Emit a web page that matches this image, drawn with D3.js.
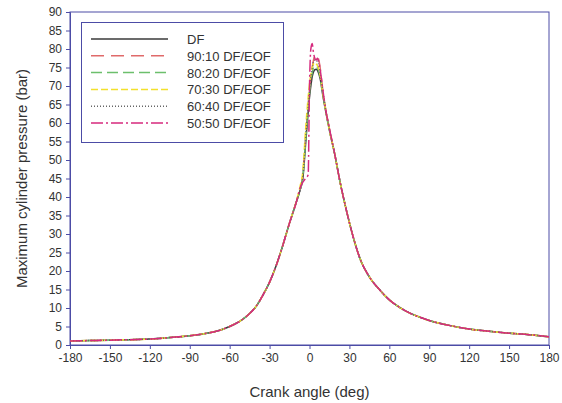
<!DOCTYPE html>
<html lang="en">
<head>
<meta charset="utf-8">
<title>Maximum cylinder pressure vs crank angle</title>
<script src="https://d3js.org/d3.v7.min.js"></script>
<style>
  body { margin: 0; background: #fff; }
  text { font-family: Arial, "Liberation Sans", sans-serif; fill: #333; }
</style>
</head>
<body>
<script>
// crank angle (deg)
var angles = [-180,-165,-150,-135,-120,-105,-90,-80,-70,-60,-50,-45,-40,-35,-30,-25,-20,-15,-10,-7,-5,-3,-1,0,1,2,3,4,5,6,7,8,10,12,15,19,23,28,33,38,45,53,60,68,75,83,90,105,120,135,150,165,180];

var df     = [1.1,1.2,1.3,1.45,1.6,2.0,2.5,3.0,3.7,5.0,7.0,8.5,10.5,13.5,17,21.5,27,33,38.5,42,45,54,63,67,70,72.5,73.8,74.4,74.5,74.2,73.3,72,67.5,63.5,58,51.5,44,36,29,23.3,18.4,14.8,12.2,10.1,8.7,7.5,6.6,5.3,4.3,3.7,3.2,2.8,2.2];
var eof10  = [1.1,1.2,1.3,1.45,1.6,2.0,2.5,3.0,3.7,5.0,7.0,8.5,10.5,13.5,17,21.5,27,33,38.5,42,46,56,65,69,72.5,75,77,78,77.5,77.8,77,75,69,64,58.5,51.5,44,36,29,23.3,18.4,14.8,12.2,10.1,8.7,7.5,6.6,5.3,4.3,3.7,3.2,2.8,2.2];
var eof20  = [1.1,1.2,1.3,1.45,1.6,2.0,2.5,3.0,3.7,5.0,7.0,8.5,10.5,13.5,17,21.5,27,33,38.5,42,45.5,55,64,68,71.5,73.5,75,75.5,75.5,75,74,72.5,68,63.8,58,51.5,44,36,29,23.3,18.4,14.8,12.2,10.1,8.7,7.5,6.6,5.3,4.3,3.7,3.2,2.8,2.2];
var eof30  = [1.1,1.2,1.3,1.45,1.6,2.0,2.5,3.0,3.7,5.0,7.0,8.5,10.5,13.5,17,21.5,27,33,38.8,43,47,58,67,70.5,73,75,76,76.3,76,75.5,74.5,73,68,63.8,58,51.5,44,36,29,23.3,18.4,14.8,12.2,10.1,8.7,7.5,6.6,5.3,4.3,3.7,3.2,2.8,2.2];
var eof40  = [1.1,1.2,1.3,1.45,1.6,2.0,2.5,3.0,3.7,5.0,7.0,8.5,10.5,13.5,17,21.5,27,33,38.5,42,45.5,55,64.5,68.5,72,74.5,76.5,77,77,76.5,75.5,73.5,68.5,64,58.2,51.5,44,36,29,23.3,18.4,14.8,12.2,10.1,8.7,7.5,6.6,5.3,4.3,3.7,3.2,2.8,2.2];
var eof50  = [1.1,1.2,1.3,1.45,1.6,2.0,2.5,3.0,3.7,5.0,7.0,8.5,10.5,13.5,17,21.5,27,33,38.5,42.5,44,45,46,70,80,81.5,79,77.5,77,77.5,76.5,74.5,69,64,58.5,51.5,44,36,29,23.3,18.4,14.8,12.2,10.1,8.7,7.5,6.6,5.3,4.3,3.7,3.2,2.8,2.2];

var seriesNames = ["DF","90:10 DF/EOF","80:20 DF/EOF","70:30 DF/EOF","60:40 DF/EOF","50:50 DF/EOF"];
var seriesValues = [df, eof10, eof20, eof30, eof40, eof50];
var seriesColors = ["#3a3a3a","#e06a6a","#6cbf6c","#f2e02c","#666666","#d62a7e"];
var seriesDash = ["none","13,7","11,5","7,3","1,2","12,3,2,3"];

var xTicks = d3.range(-180, 181, 30);
var yTicks = d3.range(0, 91, 5);

var w = 562, h = 403;
var margin = {top: 12, right: 13, bottom: 58, left: 70};
var axisColor = "#4c4ca6";

var svg = d3.select("body").append("svg")
    .attr("width", w)
    .attr("height", h);

var x = d3.scaleLinear().domain([-180, 180]).range([margin.left, w - margin.right]);
var y = d3.scaleLinear().domain([0, 90]).range([h - margin.bottom, margin.top]);

// frame
svg.append("rect")
    .attr("x", x(-180))
    .attr("y", y(90))
    .attr("width", x(180) - x(-180))
    .attr("height", y(0) - y(90))
    .attr("fill", "none")
    .attr("stroke", axisColor)
    .attr("stroke-width", 1);

var xAxis = svg.append("g")
    .attr("transform", "translate(0," + y(0) + ")")
    .call(d3.axisBottom(x).tickValues(xTicks).tickSize(4).tickPadding(4)
      .tickFormat(function(d) { return String(d); }));
var yAxis = svg.append("g")
    .attr("transform", "translate(" + x(-180) + ",0)")
    .call(d3.axisLeft(y).tickValues(yTicks).tickSize(4).tickPadding(4)
      .tickFormat(function(d) { return String(d); }));

[xAxis, yAxis].forEach(function(g) {
  g.select(".domain").attr("stroke", axisColor);
  g.selectAll(".tick line").attr("stroke", axisColor);
  g.selectAll(".tick text")
    .attr("fill", "#333")
    .style("font-size", "12px")
    .style("font-family", "Arial, 'Liberation Sans', sans-serif");
});

// axis titles
svg.append("text")
    .attr("x", (x(-180) + x(180)) / 2)
    .attr("y", 397)
    .attr("text-anchor", "middle")
    .style("font-size", "15px")
    .text("Crank angle (deg)");

svg.append("text")
    .attr("transform", "translate(27," + (y(45)) + ") rotate(-90)")
    .attr("text-anchor", "middle")
    .style("font-size", "15px")
    .text("Maximum cylinder pressure (bar)");

// curves
var line = d3.line()
    .x(function(d) { return x(d[0]); })
    .y(function(d) { return y(d[1]); })
    .curve(d3.curveMonotoneX);

seriesValues.forEach(function(vals, i) {
  svg.append("path")
    .datum(angles.map(function(a, j) { return [a, vals[j]]; }))
    .attr("d", line)
    .attr("fill", "none")
    .attr("stroke", seriesColors[i])
    .attr("stroke-width", 1.5)
    .attr("stroke-dasharray", seriesDash[i]);
});

// legend
var lg = svg.append("g");
lg.append("rect")
    .attr("x", 81.5)
    .attr("y", 22.5)
    .attr("width", 202)
    .attr("height", 120)
    .attr("fill", "#fff")
    .attr("stroke", axisColor)
    .attr("stroke-width", 1);

seriesNames.forEach(function(name, i) {
  var ry = 39 + i * 16.8;
  lg.append("line")
    .attr("x1", 91).attr("x2", 168)
    .attr("y1", ry).attr("y2", ry)
    .attr("stroke", seriesColors[i])
    .attr("stroke-width", 1.5)
    .attr("stroke-dasharray", seriesDash[i]);
  lg.append("text")
    .attr("x", 187)
    .attr("y", ry + 5)
    .style("font-size", "13px")
    .attr("fill", "#222")
    .text(name);
});
</script>
</body>
</html>
